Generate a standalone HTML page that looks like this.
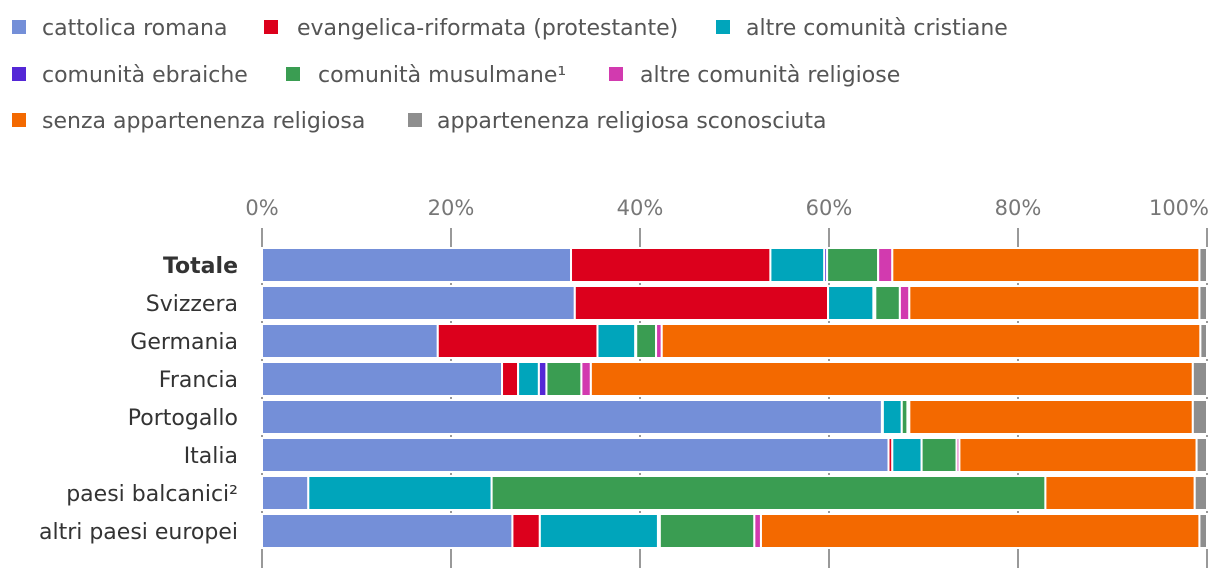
<!DOCTYPE html>
<html><head><meta charset="utf-8"><style>
body{margin:0;background:#fff;}
svg{display:block;font-family:"DejaVu Sans","Liberation Sans",sans-serif;}
</style></head><body>
<svg id="chart" width="1220" height="578" viewBox="0 0 1220 578"></svg>
<script>
const categories = ["Totale","Svizzera","Germania","Francia","Portogallo","Italia","paesi balcanici²","altri paesi europei"];
const seriesNames = ["cattolica romana","evangelica-riformata (protestante)","altre comunità cristiane","comunità ebraiche","comunità musulmane¹","altre comunità religiose","senza appartenenza religiosa","appartenenza religiosa sconosciuta"];
const cattolica = [32.7,33.1,18.6,25.4,65.6,66.3,4.9,26.5];
const evangelica = [21.1,26.8,16.9,1.7,0.1,0.4,0,2.9];
const altreCristiane = [5.7,4.8,4.0,2.2,2.0,3.1,19.4,12.5];
const ebraiche = [0.3,0.2,0.1,0.8,0,0,0,0.2];
const musulmane = [5.4,2.6,2.1,3.7,0.6,3.7,58.6,10.0];
const altreReligiose = [1.5,1.0,0.6,1.0,0.2,0.3,0,0.7];
const senza = [32.5,30.7,57.0,63.7,30.0,25.1,15.8,46.4];
const sconosciuta = [0.8,0.8,0.7,1.5,1.5,1.1,1.3,0.8];
const tickValues = [0,20,40,60,80,100];
const tickLabels = ["0%","20%","40%","60%","80%","100%"];

const series = [cattolica,evangelica,altreCristiane,ebraiche,musulmane,altreReligiose,senza,sconosciuta];
const colors = ["#748fd8","#dc001c","#00a5bb","#5427d6","#3a9d52","#d23aaf","#f36900","#8e8e8e"];
const NS="http://www.w3.org/2000/svg";
const svg=document.getElementById('chart');
const x0=262, x1=1207;
const xScale=v=>x0+(x1-x0)*v/100;
const rowY=i=>248+i*38;
const barH=34;
function mk(tag,attrs,parent){const e=document.createElementNS(NS,tag);for(const k in attrs)e.setAttribute(k,attrs[k]);(parent||svg).appendChild(e);return e;}

const legPos=[[12,42,27],[264,297,27],[716,746,27],[12,42,74],[286,318,74],[609,640,74],[12,42,120],[408,437,120]];
seriesNames.forEach((n,i)=>{
  const g=mk('g',{});
  
  
  const [sx,tx,cy]=legPos[i];
  mk('rect',{x:sx,y:cy-7,width:14,height:14,fill:colors[i]},g);
  const t=mk('text',{x:tx,y:cy+8,'font-size':22,fill:'#555'},g);
  t.textContent=n;
});

tickValues.forEach((v,i)=>{
  const l=mk('line',{x1:xScale(v),x2:xScale(v),y1:228,y2:568,stroke:'#999','stroke-width':2});
  
  
  const last=i===tickValues.length-1;
  const t=mk('text',{x:last?xScale(v)+2:xScale(v),y:215,'font-size':21,fill:'#777','text-anchor':last?'end':'middle'});
  
  
  t.textContent=tickLabels[i];
});

categories.forEach((c,i)=>{
  let acc=0;
  series.forEach((s,j)=>{
    const v=s[i];
    if(v>0){
      const r=mk('rect',{x:xScale(acc),y:rowY(i),width:Math.max(0,xScale(acc+v)-xScale(acc)),height:barH,fill:colors[j],stroke:'#fff','stroke-width':2});
      
      
    }
    acc+=v;
  });
  const t=mk('text',{x:238,y:rowY(i)+barH/2+8,'font-size':22,fill:'#333','text-anchor':'end','font-weight':i===0?'bold':'normal'});
  
  
  t.textContent=c;
});
</script>
</body></html>
